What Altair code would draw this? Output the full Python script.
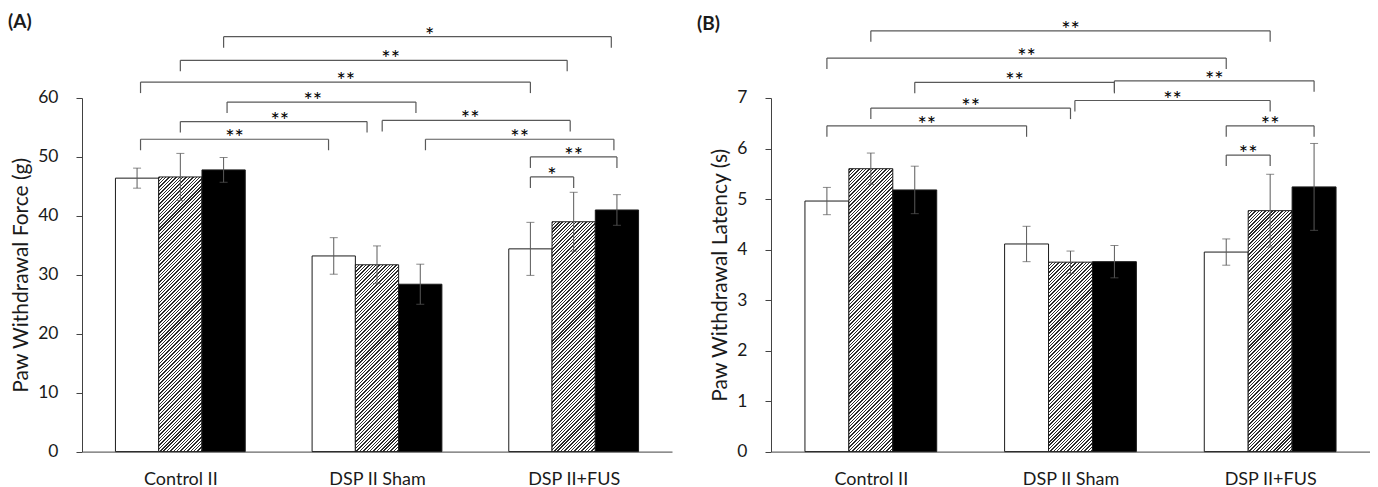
import json
import math
import altair as alt

# ---------------- data ----------------
categories = ["Control II", "DSP II Sham", "DSP II+FUS"]
bar_kinds = ["open", "hatched", "filled"]          # three bars per category

force_mean = [[46.4, 46.6, 47.8], [33.2, 31.7, 28.4], [34.4, 39.0, 41.0]]
force_err = [[1.7, 4.0, 2.1], [3.1, 3.2, 3.4], [4.5, 5.0, 2.6]]
force_ticks = [0, 10, 20, 30, 40, 50, 60]

latency_mean = [[4.96, 5.60, 5.18], [4.11, 3.75, 3.76], [3.95, 4.77, 5.24]]
latency_err = [[0.27, 0.31, 0.47], [0.35, 0.22, 0.32], [0.26, 0.72, 0.86]]
latency_ticks = [0, 1, 2, 3, 4, 5, 6, 7]

# significance brackets: (category index, bar index) pairs, level, label
force_br_from_cat = [0, 0, 0, 0, 0, 1, 0, 1, 2, 2]
force_br_from_bar = [2, 1, 0, 2, 1, 1, 0, 2, 0, 0]
force_br_to_cat = [2, 2, 2, 1, 1, 2, 1, 2, 2, 2]
force_br_to_bar = [2, 1, 0, 2, 1, 1, 0, 2, 2, 1]
force_br_level = [70.4, 66.4, 62.7, 59.3, 56.0, 56.2, 53.0, 53.0, 50.0, 46.6]
force_br_label = ["*", "**", "**", "**", "**", "**", "**", "**", "**", "*"]
force_br_from_shift = [0, 0, 0.08, 0.08, 0, 0.12, 0.08, 0.12, 0, 0]
force_br_to_shift = [-0.13, -0.15, 0, -0.1, -0.23, -0.08, -0.12, -0.07, 0, 0]
force_br_star_shift = [0.28, 0.39, 0.24, -0.2, 0.14, -0.14, 0, 0, 0, 0]

latency_br_from_cat = [0, 0, 0, 1, 1, 0, 0, 2, 2]
latency_br_from_bar = [1, 0, 2, 2, 1, 1, 0, 0, 0]
latency_br_to_cat = [2, 2, 1, 2, 2, 1, 1, 2, 2]
latency_br_to_bar = [1, 0, 2, 2, 1, 1, 0, 2, 1]
latency_br_level = [8.33, 7.79, 7.31, 7.34, 6.95, 6.80, 6.45, 6.45, 5.87]
latency_br_label = ["**"] * 9
latency_br_from_shift = [0, 0, 0, 0, 0.1, 0, 0, 0, 0]
latency_br_to_shift = [0, 0, 0, 0, 0, 0, 0, 0, 0]
latency_br_star_shift = [0, 0, 0, 0, 0, 0, 0, 0, 0]

# ---------------- styling / layout ----------------
FONT = "Lato"
TEXT = "#1a1a1a"
AXIS = "#404040"
GREY = "#595959"
SLOT = 0.22            # share of a category step taken by one bar
PLOT_H = 353.6
W_A, W_B = 590, 599


def hatch(w, h, period=2.4, frac=0.42, ink="#2b2b2b"):
    """Linear gradient with hard stops that reads as 45-degree hatching."""
    h = max(h, 1.0)
    L = (w + h) / math.sqrt(2)
    c = (1 / h + 1 / w) / (1 / h ** 2 + 1 / w ** 2)
    stops = []
    k = 0
    while k * period < L:
        a = k * period / L
        b = min((k * period + frac * period) / L, 1)
        d = min((k + 1) * period / L, 1)
        stops += [
            {"offset": round(a, 5), "color": ink},
            {"offset": round(b, 5), "color": ink},
            {"offset": round(b, 5), "color": "#ffffff"},
            {"offset": round(d, 5), "color": "#ffffff"},
        ]
        k += 1
    return {"gradient": "linear", "x1": 0, "y1": 0, "x2": c / h, "y2": c / w, "stops": stops}


def make_panel(letter, title_offset, means, errs, ticks, y_title, width,
               fc, fb, tc, tb, lev, lab, fs, ts, ss):
    ymax = ticks[-1]
    bar_w = SLOT * width / 3
    recs = []
    for i in range(len(categories)):
        for j in range(len(bar_kinds)):
            m = means[i][j]
            if j == 0:
                paint = "#ffffff"
            elif j == 1:
                paint = hatch(bar_w, m / ymax * PLOT_H)
            else:
                paint = "#000000"
            recs.append({"cat": i, "bar": j, "mean": m, "err": errs[i][j], "paint": paint})
    bar_data = alt.InlineData(values=recs)

    drop = (ymax / PLOT_H) * 11
    brs = []
    for k in range(len(lev)):
        brs.append({"fc": fc[k], "fb": fb[k], "tc": tc[k], "tb": tb[k], "level": lev[k],
                    "label": lab[k], "fs": fs[k], "ts": ts[k], "ss": ss[k]})
    br_data = alt.InlineData(values=brs)

    xscale = alt.Scale(domain=[-0.5, 2.5], nice=False, zero=False)
    yscale = alt.Scale(domain=[0, ymax], nice=False, zero=True)
    label_expr = json.dumps(categories) + "[datum.value]"
    xaxis = alt.Axis(values=[0, 1, 2], labelExpr=label_expr, ticks=False, tickSize=0,
                     labelPadding=19, labelFontSize=18, labelFont=FONT, labelColor=TEXT,
                     domainColor=AXIS, domainWidth=1, grid=False, title=None,
                     labelOverlap=False, labelFlush=False)
    yaxis = alt.Axis(values=ticks, tickSize=6, tickColor=AXIS, tickWidth=1, labelPadding=18,
                     labelFontSize=17.5, labelFont=FONT, labelColor=TEXT, title=y_title,
                     titleFont=FONT, titleFontSize=21, titleFontWeight="normal",
                     titleColor=TEXT, titlePadding=6, grid=False, domainColor=AXIS,
                     domainWidth=1)

    def X(f):
        return alt.X(f, scale=xscale, axis=xaxis)

    def Y(f):
        return alt.Y(f, scale=yscale, axis=yaxis)

    base = alt.Chart(bar_data).transform_calculate(
        x=f"datum.cat + (datum.bar - 1) * {SLOT}",
        x0=f"datum.cat + (datum.bar - 1) * {SLOT} - {SLOT / 2}",
        x1=f"datum.cat + (datum.bar - 1) * {SLOT} + {SLOT / 2}",
        lo="datum.mean - datum.err",
        hi="datum.mean + datum.err",
        zero="0",
    )
    bars = base.mark_bar(stroke="#1a1a1a", strokeWidth=1).encode(
        x=X("x0:Q"), x2="x1:Q", y=Y("mean:Q"), y2="zero:Q",
        fill=alt.Fill("paint:N", scale=None),
    )
    whisk = base.mark_rule(color=GREY, strokeWidth=1).encode(
        x=X("x:Q"), y=Y("lo:Q"), y2="hi:Q")
    caps = base.transform_fold(["lo", "hi"], as_=["end", "yv"]).mark_tick(
        orient="horizontal", size=8, thickness=1, color=GREY).encode(
        x=X("x:Q"), y=Y("yv:Q"))

    bbase = alt.Chart(br_data).transform_calculate(
        xa=f"datum.fc + (datum.fb - 1 + datum.fs) * {SLOT}",
        xb=f"datum.tc + (datum.tb - 1 + datum.ts) * {SLOT}",
    ).transform_calculate(
        xm=f"(datum.xa + datum.xb) / 2 + datum.ss * {SLOT}",
        bottom=f"datum.level - {drop}",
    )
    hline = bbase.mark_rule(color=GREY, strokeWidth=1.2).encode(
        x=X("xa:Q"), x2="xb:Q", y=Y("level:Q"))
    ldrop = bbase.mark_rule(color=GREY, strokeWidth=1.2).encode(
        x=X("xa:Q"), y=Y("level:Q"), y2="bottom:Q")
    rdrop = bbase.mark_rule(color=GREY, strokeWidth=1.2).encode(
        x=X("xb:Q"), y=Y("level:Q"), y2="bottom:Q")
    stars = bbase.mark_text(font=FONT, fontSize=22, color="#000000", align="center",
                            baseline="alphabetic", dy=6).encode(
        x=X("xm:Q"), y=Y("level:Q"), text="label:N")

    return alt.layer(bars, whisk, caps, hline, ldrop, rdrop, stars).properties(
        width=width, height=PLOT_H,
        title=alt.TitleParams(text=letter, anchor="start", frame="group", dx=-74,
                              offset=title_offset, fontSize=19, font=FONT,
                              fontWeight="bold", color=TEXT),
    )


panel_a = make_panel("(A)", -7, force_mean, force_err, force_ticks, "Paw Withdrawal Force (g)", W_A,
                     force_br_from_cat, force_br_from_bar, force_br_to_cat, force_br_to_bar,
                     force_br_level, force_br_label, force_br_from_shift, force_br_to_shift,
                     force_br_star_shift)
panel_b = make_panel("(B)", -15, latency_mean, latency_err, latency_ticks, "Paw Withdrawal Latency (s)", W_B,
                     latency_br_from_cat, latency_br_from_bar, latency_br_to_cat, latency_br_to_bar,
                     latency_br_level, latency_br_label, latency_br_from_shift, latency_br_to_shift,
                     latency_br_star_shift)

chart = alt.hconcat(panel_a, panel_b, spacing=25).properties(
    padding={"left": 0, "top": 4, "right": 0, "bottom": 0},
    background="white",
).configure_view(stroke=None)

chart.save("out.html", embed_options={"renderer": "svg", "actions": False})
